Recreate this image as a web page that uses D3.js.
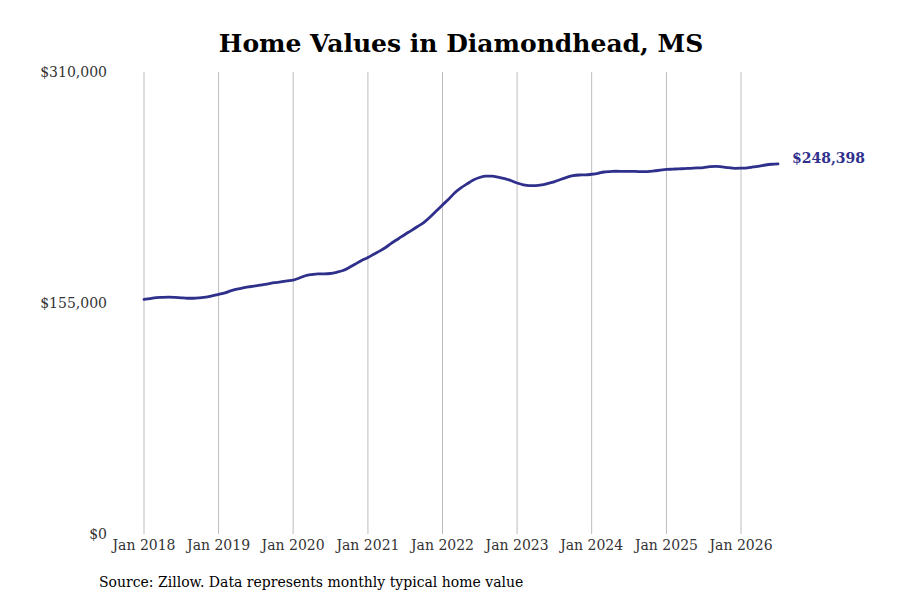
<!DOCTYPE html>
<html>
<head>
<meta charset="utf-8">
<script src="https://cdn.jsdelivr.net/npm/d3@7"></script>
<style>
  html, body { margin: 0; padding: 0; background: #fff; }
  svg { display: block; font-family: "DejaVu Serif", serif; }
</style>
</head>
<body>
<svg id="chart" width="900" height="600"></svg>
<script>
const startMonth = "2018-01";
const values = [
  157500, 158000, 158600, 158800, 158900, 158800, 158500, 158200, 158200, 158500, 159000, 159800,
  160800, 161800, 163100, 164300, 165200, 165900, 166500, 167200, 167900, 168600, 169100, 169800,
  170400, 171800, 173300, 174100, 174600, 174600, 174800, 175600, 176800, 178800, 181200, 183500,
  185500, 187900, 190000, 192600, 195600, 198300, 201000, 203600, 206300, 209000, 212700, 216700,
  220800, 224800, 228800, 232200, 234900, 237500, 239200, 240200, 240100, 239400, 238500, 237200,
  235500, 234300, 233800, 233800, 234200, 235200, 236300, 237900, 239300, 240400, 240900, 241000,
  241400, 242000, 242900, 243200, 243400, 243300, 243300, 243300, 243100, 243200, 243600, 244100,
  244600, 244800, 245000, 245200, 245400, 245600, 245900, 246500, 246700, 246300, 245800, 245400,
  245500, 245700, 246300, 246900, 247600, 248100, 248398
];
const yTicks = [0, 155000, 310000];
const xTickYears = [2018, 2019, 2020, 2021, 2022, 2023, 2024, 2025, 2026];
const title = "Home Values in Diamondhead, MS";
const source = "Source: Zillow. Data represents monthly typical home value";

const parse = d3.timeParse("%Y-%m");
const t0 = parse(startMonth);
const data = values.map((v, i) => ({ date: d3.timeMonth.offset(t0, i), value: v }));

const svg = d3.select("#chart");
const x = d3.scaleTime()
  .domain([t0, data[data.length - 1].date])
  .range([144, 778]);
const y = d3.scaleLinear().domain([0, 310000]).range([534, 72]);

const color = "#2f2f8c";

// vertical gridlines
svg.append("g")
  .selectAll("line")
  .data(xTickYears)
  .join("line")
  .attr("x1", d => x(new Date(d, 0, 1)))
  .attr("x2", d => x(new Date(d, 0, 1)))
  .attr("y1", y(310000))
  .attr("y2", y(0))
  .attr("stroke", "#bdbdbd")
  .attr("stroke-width", 1);

// x labels
svg.append("g")
  .selectAll("text")
  .data(xTickYears)
  .join("text")
  .attr("x", d => x(new Date(d, 0, 1)))
  .attr("y", 550)
  .attr("text-anchor", "middle")
  .attr("font-size", 14)
  .attr("fill", "#333")
  .text(d => d3.timeFormat("%b %Y")(new Date(d, 0, 1)));

// y labels
svg.append("g")
  .selectAll("text")
  .data(yTicks)
  .join("text")
  .attr("x", 107)
  .attr("y", d => y(d) + 5)
  .attr("text-anchor", "end")
  .attr("font-size", 14)
  .attr("fill", "#333")
  .text(d => "$" + d3.format(",")(d));

// line
const line = d3.line()
  .x(d => x(d.date))
  .y(d => y(d.value))
  .curve(d3.curveMonotoneX);

svg.append("path")
  .datum(data)
  .attr("d", line)
  .attr("fill", "none")
  .attr("stroke", color)
  .attr("stroke-width", 2.8)
  .attr("stroke-linejoin", "round")
  .attr("stroke-linecap", "round");

// end label
const last = data[data.length - 1];
svg.append("text")
  .attr("x", x(last.date) + 14)
  .attr("y", y(last.value) - 0.5)
  .attr("font-size", 14)
  .attr("font-weight", "bold")
  .attr("fill", color)
  .text("$" + d3.format(",")(last.value));

// title
svg.append("text")
  .attr("x", 461)
  .attr("y", 52)
  .attr("text-anchor", "middle")
  .attr("font-size", 25)
  .attr("font-weight", "bold")
  .attr("fill", "#000")
  .text(title);

// source
svg.append("text")
  .attr("x", 99)
  .attr("y", 587)
  .attr("font-size", 14)
  .attr("fill", "#000")
  .text(source);
</script>
</body>
</html>
